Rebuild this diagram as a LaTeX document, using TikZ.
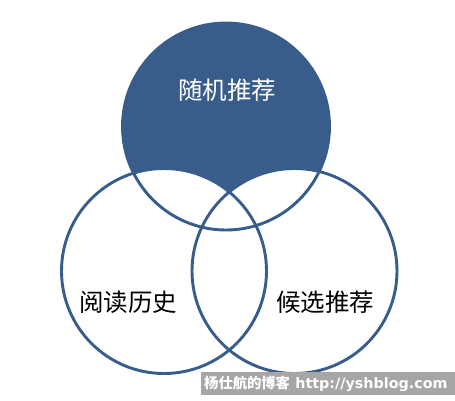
\documentclass[tikz,border=0pt]{standalone}
\usepackage{fontspec}
\newfontfamily\cjk{Noto Sans CJK SC}
\newfontfamily\wmlatin{DejaVu Sans}
\definecolor{vennblue}{HTML}{385D8A}
\definecolor{wmgray}{HTML}{A6A6A6}
\tikzset{
  ring/.style={draw=vennblue, line width=2.9pt},
  label/.style={font=\cjk\fontsize{24.5}{24.5}\selectfont, inner sep=0pt}
}
\begin{document}
\begin{tikzpicture}[x=1pt,y=-1pt]
\useasboundingbox (0,0) rectangle (455,400);
% top circle filled
\fill[vennblue] (226,126.5) circle[radius=103.5];
% lower circles white fills
\fill[white] (164,271) circle[radius=102.5];
\fill[white] (294.5,271) circle[radius=102.5];
% outlines
\draw[ring] (226,126.5) circle[radius=103.5];
\draw[ring] (164,271) circle[radius=102.5];
\draw[ring] (294.5,271) circle[radius=102.5];
% labels
\node[label, text=white] (top) at (227,90) {随机推荐};
\node[label] (left) at (128,302) {阅读历史};
\node[label] (right) at (325,302) {候选推荐};
% watermark
\fill[wmgray] (201,372) rectangle (455,395);
\node[anchor=west, inner sep=0pt, text=white, font=\fontsize{14.3}{14.3}\selectfont\bfseries] (wm) at (204,384) {{\cjk 杨仕航的博客} {\wmlatin\bfseries http://yshblog.com}};
\end{tikzpicture}
\end{document}
